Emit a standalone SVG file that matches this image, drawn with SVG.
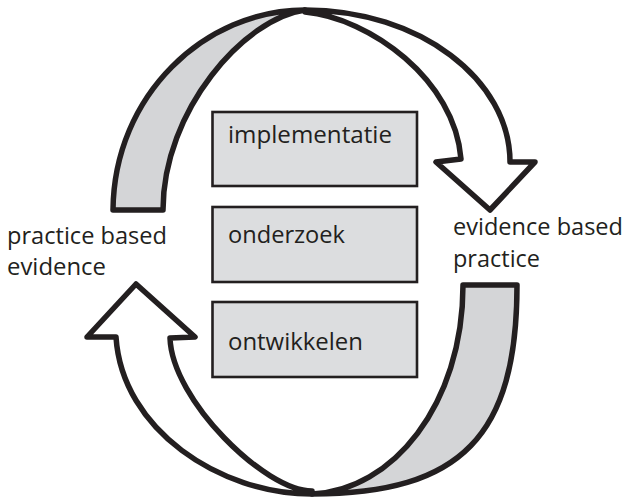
<svg xmlns="http://www.w3.org/2000/svg" width="627" height="501" viewBox="0 0 627 501">
<style>
.box{fill:#dcdddf;stroke:#231f20;stroke-width:2.6}
.lbl{font-family:"Open Sans","Liberation Sans",Arial,sans-serif;font-size:24px;fill:#231f20}
.arr{stroke:#231f20;stroke-width:5.5;stroke-linejoin:round}
.grey{fill:#d4d5d7}
.white{fill:#ffffff}
</style>
<rect width="627" height="501" fill="#ffffff"/>
<g id="connectors">
  <g id="top-arrow">
    <path class="arr grey" d="M113,210 C114,95 205,10 305,10 C245,18 163,110 163,210 Z"/>
    <path class="arr white" d="M305,10 C420,10 510,80 510,162 L535,162 L490,210 L436,162 L461,159 C455,80 370,18 305,12 Z"/>
  </g>
  <g id="bottom-arrow">
    <path class="arr grey" d="M463,285 L517,285 C517,435 462,494 312,494 C392,491 463,405 463,285 Z"/>
    <path class="arr white" d="M312,494 C220,494 122,430 116,337 L87,337 L136,284 L195,337 L170,338 C172,400 265,491 312,491 Z"/>
  </g>
</g>
<g id="node-implementatie">
  <rect class="box" x="212.5" y="112" width="204.5" height="74"/>
  <text class="lbl" x="228" y="143" textLength="164" lengthAdjust="spacingAndGlyphs">implementatie</text>
</g>
<g id="node-onderzoek">
  <rect class="box" x="212.5" y="207" width="204.5" height="75"/>
  <text class="lbl" x="228" y="243" textLength="117" lengthAdjust="spacingAndGlyphs">onderzoek</text>
</g>
<g id="node-ontwikkelen">
  <rect class="box" x="212.5" y="302" width="204.5" height="75"/>
  <text class="lbl" x="228" y="350" textLength="135" lengthAdjust="spacingAndGlyphs">ontwikkelen</text>
</g>
<g id="label-practice-based-evidence">
  <text class="lbl" x="7" y="244" textLength="160" lengthAdjust="spacingAndGlyphs">practice based</text>
  <text class="lbl" x="7" y="275" textLength="99" lengthAdjust="spacingAndGlyphs">evidence</text>
</g>
<g id="label-evidence-based-practice">
  <text class="lbl" x="453" y="235" textLength="170" lengthAdjust="spacingAndGlyphs">evidence based</text>
  <text class="lbl" x="453" y="267" textLength="87" lengthAdjust="spacingAndGlyphs">practice</text>
</g>
</svg>
